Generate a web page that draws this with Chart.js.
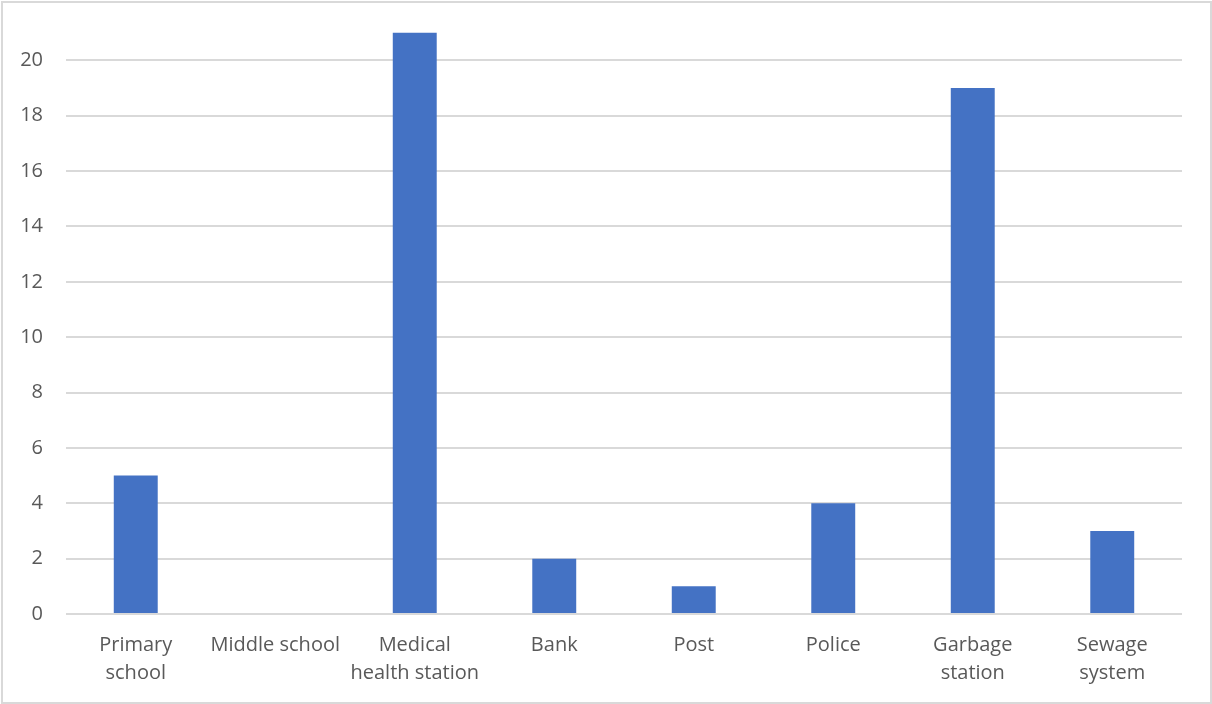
<!DOCTYPE html>
<html>
<head>
<meta charset="utf-8">
<script src="https://cdn.jsdelivr.net/npm/chart.js@4"></script>
<style>
  html, body { margin: 0; padding: 0; background: #fff; }
  #wrap { position: relative; width: 1212px; height: 704px; }
  #frame {
    position: absolute; left: 1px; top: 1px; width: 1207px; height: 699px;
    border: 2px solid #d9d9d9; pointer-events: none;
  }
  canvas { position: absolute; left: 0; top: 0; }
</style>
</head>
<body>
<div id="wrap">
  <canvas id="bar-graph" width="1212" height="704"></canvas>
  <div id="frame"></div>
</div>
<script>
const categories = [
  ['Primary', 'school'],
  'Middle school',
  ['Medical', 'health station'],
  'Bank',
  'Post',
  'Police',
  ['Garbage', 'station'],
  ['Sewage', 'system']
]
const counts = [5, 0, 21, 2, 1, 4, 19, 3]
const yMax = 22
const yStep = 2

const ctx = document.getElementById('bar-graph').getContext('2d')
const labelFont = { family: '"Open Sans", sans-serif', size: 20, lineHeight: 1.4 }

const barGraph = new Chart(ctx, {
  type: 'bar',
  data: {
    labels: categories,
    datasets: [{
      data: counts,
      backgroundColor: '#4472c4',
      categoryPercentage: 1,
      barPercentage: 0.315
    }]
  },
  options: {
    responsive: false,
    animation: false,
    layout: { padding: { left: 0, right: 30, top: 5, bottom: 0 } },
    plugins: { legend: { display: false }, tooltip: { enabled: false } },
    scales: {
      x: {
        grid: { display: false, drawTicks: false },
        border: { display: false },
        ticks: {
          color: '#595959', font: labelFont, padding: 17,
          maxRotation: 0, autoSkip: false
        },
        afterFit: (scale) => {
          scale.height = 90
          scale.paddingLeft = 0
          scale.paddingRight = 0
        }
      },
      y: {
        min: 0,
        max: yMax,
        grid: {
          drawTicks: false,
          color: (c) => c.tick && c.tick.value === yMax ? 'rgba(0,0,0,0)' : '#d9d9d9',
          lineWidth: 2
        },
        border: { display: false },
        ticks: {
          stepSize: yStep,
          color: '#595959', font: labelFont, padding: 23,
          callback: (v) => v === yMax ? '' : v
        },
        afterFit: (scale) => {
          scale.width = 66
          scale.paddingTop = 0
          scale.paddingBottom = 0
        }
      }
    }
  }
})
</script>
</body>
</html>
